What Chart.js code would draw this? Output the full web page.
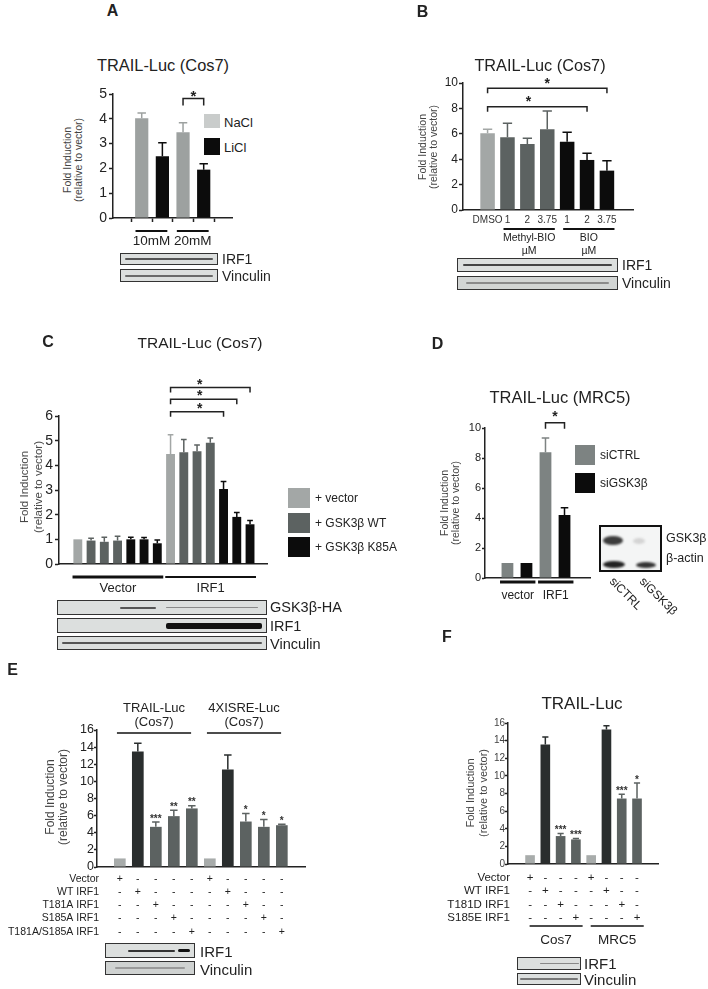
<!DOCTYPE html>
<html>
<head>
<meta charset="utf-8">
<script src="https://cdn.jsdelivr.net/npm/chart.js@4.4.1/dist/chart.umd.min.js"></script>
<style>
  body { margin: 0; width: 708px; height: 989px; position: relative; overflow: hidden; background: #fff;
         font-family: "Liberation Sans", Arial, Helvetica, sans-serif; color: #222; }
  .abs { position: absolute; white-space: nowrap; line-height: 1; }
  canvas { position: absolute; left: 0; top: 0; }
  .blot { position: absolute; border: 1px solid #333; background: #dcdfde; box-sizing: border-box; overflow: hidden; }
  .band { position: absolute; }
</style>
</head>
<body>
<script>
var FONT = '"Liberation Sans", Arial, Helvetica, sans-serif';

// ---- A: TRAIL-Luc (Cos7), NaCl / LiCl ----
var aSalt = ['NaCl', 'LiCl', 'NaCl', 'LiCl'];
var aDose = ['10mM', '20mM'];
var aDoseSpan = [[0, 1], [2, 3]];
var aFold = [4.02, 2.49, 3.46, 1.95];
var aSem = [0.21, 0.54, 0.38, 0.24];
var aTicks = [0, 1, 2, 3, 4, 5];
var aSig = [{ from: 2, to: 3, y: 4.82, at: 2.5, mark: '*' }];

// ---- B: TRAIL-Luc (Cos7), Methyl-BIO / BIO ----
var bDoses = ['DMSO', '1', '2', '3.75', '1', '2', '3.75'];
var bDrug = ['Methyl-BIO', 'BIO'];
var bDrugSpan = [[1, 3], [4, 6]];
var bFold = [6.04, 5.72, 5.2, 6.35, 5.38, 3.94, 3.1];
var bSem = [0.31, 1.11, 0.44, 1.45, 0.74, 0.52, 0.78];
var bTicks = [0, 2, 4, 6, 8, 10];
var bSig = [
  { from: 0, to: 6, y: 9.58, at: 3.0, mark: '*' },
  { from: 0, to: 5, y: 8.13, at: 2.05, mark: '*' }
];

// ---- C: TRAIL-Luc (Cos7), GSK3b WT / K85A ----
var cSeries = ['+ vector', '+ GSK3\u03b2 WT', '+ GSK3\u03b2 K85A'];
var cSeriesOf = [0, 1, 1, 1, 2, 2, 2, 0, 1, 1, 1, 2, 2, 2];
var cGroup = ['Vector', 'IRF1'];
var cGroupSpan = [[0, 6], [7, 13]];
var cFold = [1.0, 0.95, 0.9, 0.95, 1.0, 1.0, 0.84, 4.46, 4.53, 4.57, 4.92, 3.04, 1.91, 1.61];
var cSem = [0, 0.09, 0.18, 0.18, 0.08, 0.07, 0.13, 0.78, 0.52, 0.25, 0.19, 0.3, 0.18, 0.15];
var cTicks = [0, 1, 2, 3, 4, 5, 6];
var cSig = [
  { from: 7, to: 11, y: 6.17, at: 9.2, mark: '*' },
  { from: 7, to: 12, y: 6.68, at: 9.2, mark: '*' },
  { from: 7, to: 13, y: 7.16, at: 9.2, mark: '*' }
];

// ---- D: TRAIL-Luc (MRC5), siCTRL / siGSK3b ----
var dSeries = ['siCTRL', 'siGSK3\u03b2'];
var dSeriesOf = [0, 1, 0, 1];
var dGroup = ['vector', 'IRF1'];
var dGroupSpan = [[0, 1], [2, 3]];
var dFold = [1.0, 1.0, 8.39, 4.2];
var dSem = [0, 0, 0.94, 0.49];
var dTicks = [0, 2, 4, 6, 8, 10];
var dSig = [{ from: 2, to: 3, y: 10.35, at: 2.5, mark: '*' }];

// ---- E: TRAIL-Luc / 4XISRE-Luc (Cos7), IRF1 mutants ----
var eReporter = [['TRAIL-Luc', '(Cos7)'], ['4XISRE-Luc', '(Cos7)']];
var eReporterSpan = [[0, 4], [5, 9]];
var eRows = ['Vector', 'WT IRF1', 'T181A IRF1', 'S185A IRF1', 'T181A/S185A IRF1'];
var eConstruct = ['Vector', 'WT IRF1', 'T181A IRF1', 'S185A IRF1', 'T181A/S185A IRF1',
                  'Vector', 'WT IRF1', 'T181A IRF1', 'S185A IRF1', 'T181A/S185A IRF1'];
var eFold = [1.0, 13.48, 4.69, 5.94, 6.84, 1.0, 11.4, 5.31, 4.69, 4.88];
var eSem = [0, 0.97, 0.58, 0.7, 0.31, 0, 1.69, 0.94, 0.86, 0.12];
var eStars = ['', '', '***', '**', '**', '', '', '*', '*', '*'];
var eTicks = [0, 2, 4, 6, 8, 10, 12, 14, 16];

// ---- F: TRAIL-Luc, phosphomimetic IRF1 ----
var fCells = ['Cos7', 'MRC5'];
var fCellSpan = [[0, 3], [4, 7]];
var fRows = ['Vector', 'WT IRF1', 'T181D IRF1', 'S185E IRF1'];
var fConstruct = ['Vector', 'WT IRF1', 'T181D IRF1', 'S185E IRF1', 'Vector', 'WT IRF1', 'T181D IRF1', 'S185E IRF1'];
var fFold = [1.0, 13.55, 3.17, 2.79, 1.0, 15.25, 7.43, 7.43];
var fSem = [0, 0.85, 0.3, 0.11, 0, 0.45, 0.49, 1.77];
var fStars = ['', '', '***', '***', '', '', '***', '*'];
var fTicks = [0, 2, 4, 6, 8, 10, 12, 14, 16];

// colours
var LIGHT = '#a3a7a6', MID = '#5c6261', DARK = '#2a2e2e', BLACK = '#0c0c0c';
var aColors = aSalt.map(function (s) { return s === 'NaCl' ? '#9da1a0' : BLACK; });
var bColors = bDoses.map(function (d, i) { return i === 0 ? LIGHT : (i <= 3 ? MID : BLACK); });
var cPalette = [LIGHT, MID, BLACK];
var cColors = cSeriesOf.map(function (s) { return cPalette[s]; });
var dPalette = ['#7d8382', BLACK];
var dColors = dSeriesOf.map(function (s) { return dPalette[s]; });
function mutColors(cons) {
  return cons.map(function (c) { return c === 'Vector' ? '#a8acab' : (c === 'WT IRF1' ? DARK : MID); });
}
var eColors = mutColors(eConstruct);
var fColors = mutColors(fConstruct);

// ---- html helpers ----
function text(str, x, y, size, opt) {
  opt = opt || {};
  var d = document.createElement('div');
  d.className = 'abs';
  d.textContent = str;
  d.style.left = x + 'px';
  d.style.top = y + 'px';
  d.style.fontSize = size + 'px';
  if (opt.bold) d.style.fontWeight = 'bold';
  if (opt.color) d.style.color = opt.color;
  if (opt.rot) {
    d.style.transformOrigin = 'left top';
    d.style.transform = 'rotate(' + opt.rot + 'deg)';
  } else {
    d.style.transform = 'translate(' + (opt.left ? '0' : '-50%') + ',-50%)';
  }
  document.body.appendChild(d);
  return d;
}
function yTitle(x, y, size, lh) {
  var d = document.createElement('div');
  d.className = 'abs';
  d.innerHTML = 'Fold Induction<br>(relative to vector)';
  d.style.cssText += 'left:' + x + 'px;top:' + y + 'px;font-size:' + size + 'px;line-height:' + lh +
    'px;text-align:center;color:#444;transform:translate(-50%,-50%) rotate(-90deg);';
  document.body.appendChild(d);
}
function swatch(x, y, w, h, color) {
  var d = document.createElement('div');
  d.style.cssText = 'position:absolute;left:' + x + 'px;top:' + y + 'px;width:' + w + 'px;height:' + h + 'px;background:' + color;
  document.body.appendChild(d);
}
function blot(x, y, w, h, bands, bg) {
  var d = document.createElement('div');
  d.className = 'blot';
  d.style.cssText += 'left:' + x + 'px;top:' + y + 'px;width:' + w + 'px;height:' + h + 'px;' + (bg ? 'background:' + bg : '');
  bands.forEach(function (b) {
    var s = document.createElement('div');
    s.className = 'band';
    s.style.cssText = 'left:' + (b[0] * 100) + '%;width:' + ((b[1] - b[0]) * 100) + '%;top:' + (h / 2 - 1 - b[2] / 2) +
      'px;height:' + b[2] + 'px;background:' + b[3] + ';border-radius:2px;filter:blur(0.4px)';
    d.appendChild(s);
  });
  document.body.appendChild(d);
}
function blob(x, y, w, h, color) {
  var d = document.createElement('div');
  d.style.cssText = 'position:absolute;left:' + x + 'px;top:' + y + 'px;width:' + w + 'px;height:' + h +
    'px;background:' + color + ';border-radius:50%;filter:blur(1.2px)';
  document.body.appendChild(d);
}

// ---- chart overlay: error bars, significance, group lines, tables ----
function overlay(p) {
  return {
    id: 'overlay',
    afterDraw: function (chart) {
      var ctx = chart.ctx, xs = chart.scales.x, ys = chart.scales.y;
      var bars = chart.getDatasetMeta(0).data;
      ctx.save();
      bars.forEach(function (bar, i) {
        if (!p.err[i]) return;
        var top = ys.getPixelForValue(p.values[i] + p.err[i]), cap = bar.width * 0.32;
        ctx.strokeStyle = p.colors[i];
        ctx.lineWidth = 1.5;
        ctx.beginPath();
        ctx.moveTo(bar.x, bar.y); ctx.lineTo(bar.x, top);
        ctx.moveTo(bar.x - cap, top); ctx.lineTo(bar.x + cap, top);
        ctx.stroke();
      });
      ctx.textAlign = 'center';
      if (p.stars) {
        ctx.font = 'bold 10px ' + FONT;
        ctx.fillStyle = '#333';
        ctx.textBaseline = 'alphabetic';
        bars.forEach(function (bar, i) {
          if (!p.stars[i]) return;
          var top = ys.getPixelForValue(p.values[i] + p.err[i]);
          ctx.fillText(p.stars[i], bar.x, top - 6 + 5.7);
        });
      }
      (p.sig || []).forEach(function (s) {
        var x1 = xs.getPixelForValue(s.from), x2 = xs.getPixelForValue(s.to), y = ys.getPixelForValue(s.y);
        ctx.strokeStyle = '#222';
        ctx.lineWidth = 1.5;
        ctx.beginPath();
        ctx.moveTo(x1, y + p.leg); ctx.lineTo(x1, y); ctx.lineTo(x2, y); ctx.lineTo(x2, y + p.leg);
        ctx.stroke();
        ctx.font = 'bold ' + p.starSize + 'px ' + FONT;
        ctx.fillStyle = '#222';
        ctx.textBaseline = 'alphabetic';
        ctx.fillText(s.mark, xs.getPixelForValue(s.at), y - p.starGap + 0.57 * p.starSize);
      });
      if (p.xlabels) {
        ctx.font = p.xlabelSize + 'px ' + FONT;
        ctx.fillStyle = '#333';
        ctx.textBaseline = 'middle';
        bars.forEach(function (bar, i) { ctx.fillText(p.xlabels[i], bar.x, p.xlabelY); });
      }
      (p.groups || []).forEach(function (g, k) {
        var x1 = xs.getPixelForValue(p.groupSpan[k][0] - p.ext[0]);
        var x2 = xs.getPixelForValue(p.groupSpan[k][1] + p.ext[1]);
        ctx.strokeStyle = '#111';
        ctx.lineWidth = p.groupLw[k];
        ctx.beginPath(); ctx.moveTo(x1, p.groupY); ctx.lineTo(x2, p.groupY); ctx.stroke();
        ctx.font = p.groupSize + 'px ' + FONT;
        ctx.fillStyle = '#222';
        ctx.textBaseline = 'middle';
        [].concat(g).forEach(function (t, n) {
          ctx.fillText(t, (x1 + x2) / 2, p.groupLabelY + n * p.groupStep);
        });
      });
      if (p.table) {
        var t = p.table;
        ctx.font = t.size + 'px ' + FONT;
        ctx.fillStyle = '#222';
        ctx.textBaseline = 'middle';
        t.rows.forEach(function (row, r) {
          var y = t.y0 + r * t.step;
          ctx.textAlign = 'right';
          ctx.fillText(row, t.x, y);
          ctx.textAlign = 'center';
          bars.forEach(function (bar, i) { ctx.fillText(t.cons[i] === row ? '+' : '-', bar.x, y); });
        });
      }
      ctx.restore();
    }
  };
}

function plotChart(p) {
  var cv = document.createElement('canvas');
  cv.width = 708; cv.height = 989;
  cv.style.width = '708px'; cv.style.height = '989px';
  document.body.appendChild(cv);
  var L = p.box[0], T = p.box[1], W = p.box[2], H = p.box[3];
  return new Chart(cv.getContext('2d'), {
    type: 'bar',
    data: {
      datasets: [{
        data: p.values.map(function (v, i) { return { x: i, y: v }; }),
        backgroundColor: p.colors,
        barPercentage: p.barPct,
        categoryPercentage: 1
      }]
    },
    options: {
      responsive: false,
      animation: false,
      devicePixelRatio: 1,
      layout: { padding: { left: L - p.yw, top: T, right: 708 - L - W, bottom: 989 - T - H } },
      plugins: { legend: { display: false }, tooltip: { enabled: false } },
      scales: {
        x: {
          type: 'linear', min: p.xRange[0], max: p.xRange[1],
          afterBuildTicks: function (s) { s.ticks = p.values.map(function (v, i) { return { value: i }; }); },
          afterFit: function (s) { s.height = 0; },
          ticks: { display: false },
          grid: { display: !!p.xMarks, drawOnChartArea: false, tickLength: 4, tickColor: '#222', tickWidth: 1.5 },
          border: { color: '#222', width: 1.5 }
        },
        y: {
          min: 0, max: p.yTicks[p.yTicks.length - 1],
          afterBuildTicks: function (s) { s.ticks = p.yTicks.map(function (v) { return { value: v }; }); },
          afterFit: function (s) { s.width = p.yw; },
          ticks: { font: { family: FONT, size: p.tickSize }, color: p.tickColor || '#222', padding: p.tickPad, autoSkip: false },
          grid: { drawOnChartArea: false, tickLength: p.tickLen, tickColor: '#222', tickWidth: 1.5 },
          border: { color: '#222', width: 1.5 }
        }
      }
    },
    plugins: [overlay(p)]
  });
}

// ================= Panel A =================
text('A', 112.5, 11, 16, { bold: true });
text('TRAIL-Luc (Cos7)', 163, 65, 16.4);
yTitle(72.5, 160, 10.5, 11);
swatch(204, 114, 16, 14, '#c9cccb');
swatch(204, 138, 16, 17, BLACK);
text(aSalt[0], 224, 122, 13, { left: true });
text(aSalt[1], 224, 147, 13, { left: true });
plotChart({
  box: [113, 94, 119, 124], yw: 30, xRange: [-0.67, 3.65], barPct: 0.64, xMarks: true,
  values: aFold, err: aSem, colors: aColors, yTicks: aTicks, tickSize: 14, tickLen: 4, tickPad: 2,
  sig: aSig, leg: 7, starGap: 6.5, starSize: 15,
  groups: aDose, groupSpan: aDoseSpan, ext: [0.3, 0.24], groupLw: [2, 2], groupY: 231, groupLabelY: 241, groupStep: 13, groupSize: 13.5
});
blot(120, 253, 98, 12, [[0.04, 0.96, 2, '#555']]);
blot(120, 269, 98, 13, [[0.04, 0.96, 2, '#6a6a6a']]);
text('IRF1', 222, 259, 14, { left: true });
text('Vinculin', 222, 276, 14, { left: true });

// ================= Panel B =================
text('B', 422.5, 12, 16, { bold: true });
text('TRAIL-Luc (Cos7)', 540, 65, 16.3);
yTitle(427.5, 147, 10.5, 11);
plotChart({
  box: [463, 83, 170, 127], yw: 25, xRange: [-0.625, 6.7], barPct: 0.73,
  values: bFold, err: bSem, colors: bColors, yTicks: bTicks, tickSize: 12, tickLen: 4, tickPad: 1,
  sig: bSig, leg: 5, starGap: 8.5, starSize: 14,
  xlabels: bDoses, xlabelY: 220, xlabelSize: 10,
  groups: bDrug.map(function (d) { return [d, '\u00b5M']; }), groupSpan: bDrugSpan, ext: [0.2, 0.38], groupLw: [2, 2],
  groupY: 229, groupLabelY: 238, groupStep: 13, groupSize: 10.5
});
blot(457, 258, 161, 14, [[0.03, 0.97, 2, '#444']]);
blot(457, 276, 161, 14, [[0.05, 0.95, 1.5, '#8a8a8a']], '#d2d5d4');
text('IRF1', 622, 265, 14, { left: true });
text('Vinculin', 622, 283, 14, { left: true });

// ================= Panel C =================
text('C', 48, 341.5, 16, { bold: true });
text('TRAIL-Luc (Cos7)', 200, 343, 15.5);
yTitle(31, 487, 11.5, 14);
cSeries.forEach(function (s, k) {
  swatch(288, 488 + k * 24.5, 22, 20, cPalette[k]);
  text(s, 315, 498 + k * 24.5, 12, { left: true });
});
plotChart({
  box: [59, 416, 208, 148], yw: 30, xRange: [-0.86, 13.72], barPct: 0.67,
  values: cFold, err: cSem, colors: cColors, yTicks: cTicks, tickSize: 14, tickLen: 4, tickPad: 2,
  sig: cSig, leg: 5, starGap: 6.8, starSize: 14,
  groups: cGroup, groupSpan: cGroupSpan, ext: [0.4, 0.45], groupLw: [3, 2], groupY: 577, groupLabelY: 588, groupStep: 13, groupSize: 13
});
blot(57, 600, 210, 15, [[0.3, 0.47, 2, '#555'], [0.52, 0.96, 1.5, '#8a8a8a']]);
blot(57, 618, 210, 15, [[0.52, 0.98, 6, '#111']]);
blot(57, 636, 210, 14, [[0.02, 0.98, 2, '#555']]);
text('GSK3\u03b2-HA', 270, 607, 14.5, { left: true });
text('IRF1', 270, 626, 14.5, { left: true });
text('Vinculin', 270, 644, 14.5, { left: true });

// ================= Panel D =================
text('D', 437.5, 344, 16, { bold: true });
text('TRAIL-Luc (MRC5)', 560, 397, 16.5);
yTitle(450, 503, 10.5, 11);
dSeries.forEach(function (s, k) {
  swatch(575, 445 + k * 28, 20, 20, dPalette[k]);
  text(s, 600, 455 + k * 28, 12, { left: true });
});
plotChart({
  box: [485, 428, 105, 150], yw: 25, xRange: [-0.49, 3.65], barPct: 0.62,
  values: dFold, err: dSem, colors: dColors, yTicks: dTicks, tickSize: 11, tickLen: 3, tickPad: 1,
  sig: dSig, leg: 6, starGap: 9.5, starSize: 14,
  groups: dGroup, groupSpan: dGroupSpan, ext: [0.39, 0.47], groupLw: [3, 3], groupY: 582, groupLabelY: 596, groupStep: 13, groupSize: 12
});
var inset = document.createElement('div');
inset.style.cssText = 'position:absolute;left:599px;top:525px;width:63px;height:47px;border:2px solid #111;box-sizing:border-box;background:#f4f5f5';
document.body.appendChild(inset);
blob(603, 536, 20, 9, '#3c3c3c');
blob(633, 538, 12, 6, '#d4d4d4');
blob(603, 561, 22, 7, '#222');
blob(636, 562, 20, 6, '#333');
text('GSK3\u03b2', 666, 538, 12.5, { left: true });
text('\u03b2-actin', 666, 558, 12.5, { left: true });
text('siCTRL', 616, 575, 12, { rot: 45 });
text('siGSK3\u03b2', 646, 575, 12, { rot: 45 });

// ================= Panel E =================
text('E', 12.5, 670, 16, { bold: true });
yTitle(57, 797, 12, 13);
plotChart({
  box: [97, 730, 208, 137], yw: 92, xRange: [-0.69, 9.71], barPct: 0.65,
  values: eFold, err: eSem, colors: eColors, yTicks: eTicks, tickSize: 12.5, tickLen: 3, tickPad: 0,
  stars: eStars,
  groups: eReporter, groupSpan: eReporterSpan, ext: [0.16, -0.04], groupLw: [1.5, 1.5], groupY: 733, groupLabelY: 708, groupStep: 14, groupSize: 13,
  table: { rows: eRows, cons: eConstruct, x: 99, y0: 879.3, step: 13.1, size: 10.5 }
});
blot(105, 943, 90, 15, [[0.25, 0.78, 2, '#333'], [0.82, 0.96, 3, '#111']]);
blot(105, 961, 90, 14, [[0.1, 0.9, 2, '#9a9a9a']], '#cfd2d1');
text('IRF1', 200, 951, 15, { left: true });
text('Vinculin', 200, 969, 15, { left: true });

// ================= Panel F =================
text('F', 447, 636.5, 16, { bold: true });
text('TRAIL-Luc', 582, 703, 17);
yTitle(477, 793, 11, 13);
plotChart({
  box: [508, 723, 150, 141], yw: 60, xRange: [-0.83, 7.76], barPct: 0.63,
  values: fFold, err: fSem, colors: fColors, yTicks: fTicks, tickSize: 10, tickLen: 3, tickPad: 0, tickColor: '#444',
  stars: fStars,
  groups: fCells, groupSpan: fCellSpan, ext: [0.03, 0.44], groupLw: [1.5, 1.5], groupY: 926, groupLabelY: 940, groupStep: 13, groupSize: 13.5,
  table: { rows: fRows, cons: fConstruct, x: 510, y0: 878, step: 13.3, size: 11.5 }
});
blot(517, 957, 64, 13, [[0.35, 0.98, 1.5, '#888']]);
blot(517, 973, 64, 12, [[0.03, 0.97, 2, '#777']]);
text('IRF1', 584, 963, 15, { left: true });
text('Vinculin', 584, 979, 15, { left: true });
</script>
</body>
</html>
